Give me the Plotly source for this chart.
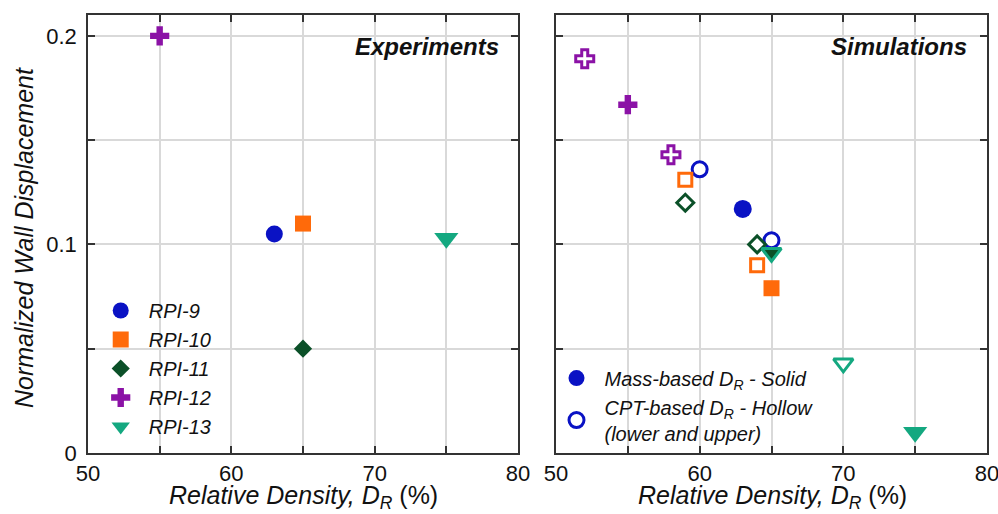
import plotly.graph_objects as go

# ---------------- data ----------------
series = ["RPI-9", "RPI-10", "RPI-11", "RPI-12", "RPI-13"]
colors = ["#0A12C4", "#FF6A0A", "#0B5028", "#8B12A6", "#14A880"]
symbols = ["circle", "square", "diamond", "cross", "triangle-down"]

# Experiments
exp_x = [63, 65, 65, 55, 75]
exp_y = [0.105, 0.110, 0.050, 0.200, 0.103]

# Simulations - mass-based (solid)
sim_solid_x = {"RPI-9": [63], "RPI-10": [65], "RPI-11": [], "RPI-12": [55], "RPI-13": [75]}
sim_solid_y = {"RPI-9": [0.117], "RPI-10": [0.079], "RPI-11": [], "RPI-12": [0.167], "RPI-13": [0.010]}

# Simulations - CPT-based (hollow, lower and upper)
sim_hollow_x = {"RPI-9": [60, 65], "RPI-10": [59, 64], "RPI-11": [59, 64], "RPI-12": [52, 58], "RPI-13": [70, 65]}
sim_hollow_y = {"RPI-9": [0.136, 0.102], "RPI-10": [0.131, 0.090], "RPI-11": [0.120, 0.100],
                "RPI-12": [0.189, 0.143], "RPI-13": [0.043, 0.096]}

x_ticks = [50, 55, 60, 65, 70, 75, 80]
x_ticktext = ["50", "", "60", "", "70", "", "80"]
y_ticks = [0, 0.05, 0.1, 0.15, 0.2]
y_ticktext = ["0", "", "0.1", "", "0.2"]

FONT = "Liberation Sans, Arial, sans-serif"

solid_size = {"circle": 17, "square": 16, "diamond": 14, "cross": 16, "triangle-down": 21}
hollow_size = {"circle": 15, "square": 13, "diamond": 13, "cross": 15, "triangle-down": 17}

fig = go.Figure()

# Experiments panel
for i, s in enumerate(series):
    fig.add_trace(go.Scatter(
        x=[exp_x[i]], y=[exp_y[i]], mode="markers", name=s,
        marker=dict(symbol=symbols[i], color=colors[i], size=solid_size[symbols[i]], line=dict(width=0)),
        xaxis="x", yaxis="y", legend="legend", showlegend=True))

# Simulations panel - hollow first
order = ["RPI-12", "RPI-9", "RPI-10", "RPI-11", "RPI-13"]
for s in order:
    i = series.index(s)
    fills = ["white"] * len(sim_hollow_x[s])
    if s == "RPI-13":
        fills = ["white", colors[2]]  # lower point overlaps the solid RPI-11 point
    fig.add_trace(go.Scatter(
        x=sim_hollow_x[s], y=sim_hollow_y[s], mode="markers",
        name="CPT-based D<sub>R</sub> - Hollow<br>(lower and upper)",
        marker=dict(symbol=symbols[i], color=fills, size=hollow_size[symbols[i]],
                    line=dict(color=colors[i], width=3)),
        xaxis="x2", yaxis="y2", legend="legend2", showlegend=(s == "RPI-9")))

for s in series:
    i = series.index(s)
    if not sim_solid_x[s]:
        continue
    fig.add_trace(go.Scatter(
        x=sim_solid_x[s], y=sim_solid_y[s], mode="markers",
        name="Mass-based D<sub>R</sub> - Solid",
        marker=dict(symbol=symbols[i], color=colors[i], size=solid_size[symbols[i]] + (1 if s == "RPI-9" else 0),
                    line=dict(width=0)),
        xaxis="x2", yaxis="y2", legend="legend2", showlegend=(s == "RPI-9"), legendrank=1))

axis_common = dict(
    showgrid=True, gridcolor="#d9d9d9", gridwidth=1.5,
    showline=True, linecolor="#333", linewidth=1.5, mirror="ticks",
    ticks="inside", ticklen=7, tickwidth=1.5, tickcolor="#333",
    zeroline=False, automargin=False, ticklabeloverflow="allow",
)
tickfont = dict(family=FONT, size=22, color="#111")

ydom = [1 - 453 / 514, 1 - 15 / 514]
fig.update_layout(
    width=998, height=514, margin=dict(l=0, r=0, t=0, b=0, autoexpand=False),
    paper_bgcolor="white", plot_bgcolor="white",
    xaxis=dict(domain=[88 / 998, 518 / 998], range=[50, 80], tickvals=x_ticks, ticktext=x_ticktext,
               anchor="y", tickfont=tickfont, **axis_common),
    yaxis=dict(domain=ydom, range=[0, 0.21], tickvals=y_ticks, ticktext=y_ticktext, anchor="x",
               tickfont=tickfont, ticklabelstandoff=5, **axis_common),
    xaxis2=dict(domain=[556 / 998, 987 / 998], range=[50, 80], tickvals=x_ticks, ticktext=x_ticktext,
                anchor="y2", tickfont=tickfont, **axis_common),
    yaxis2=dict(domain=ydom, range=[0, 0.21], tickvals=y_ticks, ticktext=y_ticktext, anchor="x2",
                showticklabels=False, **axis_common),
    legend=dict(x=0.0929, y=1 - 291 / 514, xanchor="left", yanchor="top",
                bgcolor="rgba(255,255,255,0)", itemwidth=46,
                font=dict(family=FONT, size=20, style="italic", color="#111")),
    legend2=dict(x=0.5496, y=1 - 358.6 / 514, xanchor="left", yanchor="top",
                 bgcolor="rgba(255,255,255,0)", itemwidth=46,
                 font=dict(family=FONT, size=20, style="italic", color="#111")),
)

title_font = dict(family=FONT, size=25, color="#111")
ann = dict(xref="paper", yref="paper", showarrow=False, yanchor="middle")
fig.add_annotation(text="<i>Relative Density, D<sub>R</sub></i> (%)", x=303 / 998, y=1 - 497 / 514,
                   xanchor="center", font=title_font, **ann)
fig.add_annotation(text="<i>Relative Density, D<sub>R</sub></i> (%)", x=772 / 998, y=1 - 497 / 514,
                   xanchor="center", font=title_font, **ann)
fig.add_annotation(text="<i>Normalized Wall Displacement</i>", x=24 / 998, y=1 - 238 / 514,
                   xanchor="center", textangle=-90, font=title_font, **ann)
fig.add_annotation(text="<b><i>Experiments</i></b>", x=501 / 998, y=1 - 46 / 514, xanchor="right",
                   font=dict(family=FONT, size=24, color="#111"), **ann)
fig.add_annotation(text="<b><i>Simulations</i></b>", x=969 / 998, y=1 - 46 / 514, xanchor="right",
                   font=dict(family=FONT, size=24, color="#111"), **ann)

fig.write_html("out.html")
